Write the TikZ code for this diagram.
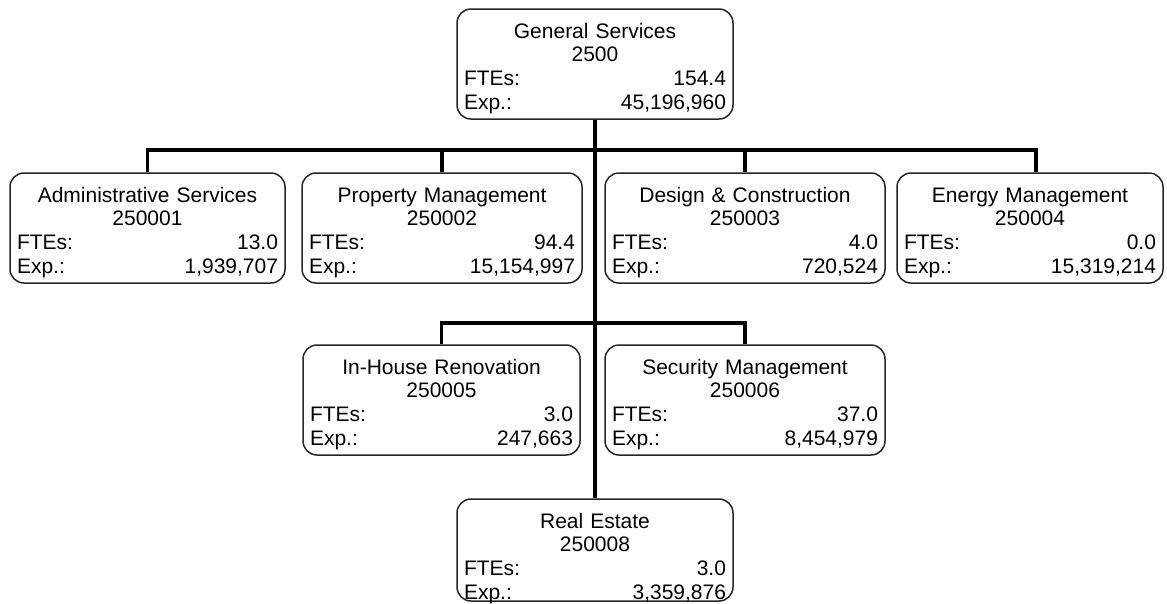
\documentclass[tikz,border=0pt]{standalone}
\usepackage{fontspec}
\setmainfont{Liberation Sans}
\usepackage{tikz}
\tikzstyle{unit} = [rectangle, draw=black!85, line width=1.5pt, rounded corners=14pt, minimum height=110pt, inner xsep=7pt, inner ysep=0pt, text height=24pt, text depth=76pt, align=center, font=\fontsize{21}{23.7}\selectfont]
\tikzstyle{wire} = [draw, line width=3.2pt]
\newcommand{\entry}[2]{\leavevmode\hbox to \hsize{#1\hfill #2}}

\begin{document}
\begin{tikzpicture}[x=1pt, y=-1pt]
\useasboundingbox (0,0) rectangle (1167,603);

%% top
\node[unit, text width=262pt] at (595, 64) (general) {General Services\\2500\\\entry{FTEs:}{154.4}\\\entry{Exp.:}{45,196,960}};

%% first row
\node[unit, text width=261pt] at (147.5, 228) (admin) {Administrative Services\\250001\\\entry{FTEs:}{13.0}\\\entry{Exp.:}{1,939,707}};
\node[unit, text width=266pt] at (442, 228) (property) {Property Management\\250002\\\entry{FTEs:}{94.4}\\\entry{Exp.:}{15,154,997}};
\node[unit, text width=266pt] at (745, 228) (design) {Design \& Construction\\250003\\\entry{FTEs:}{4.0}\\\entry{Exp.:}{720,524}};
\node[unit, text width=252pt] at (1030, 228) (energy) {Energy Management\\250004\\\entry{FTEs:}{0.0}\\\entry{Exp.:}{15,319,214}};

%% second row
\node[unit, text width=263pt] at (441.5, 400) (renovation) {In-House Renovation\\250005\\\entry{FTEs:}{3.0}\\\entry{Exp.:}{247,663}};
\node[unit, text width=266pt] at (745, 400) (security) {Security Management\\250006\\\entry{FTEs:}{37.0}\\\entry{Exp.:}{8,454,979}};

%% bottom
\node[unit, text width=262pt, minimum height=102pt, text height=26pt, text depth=70pt] at (595, 550) (realestate) {Real Estate\\250008\\\entry{FTEs:}{3.0}\\\entry{Exp.:}{3,359,876}};

% lines
\coordinate (busa) at (595, 150);
\coordinate (busb) at (595, 323);
\path[wire] (general.south) -- (realestate.north);
\path[wire] (admin.north) |- (busa) -| ([xshift=6]energy.north);
\path[wire] (property.north) -- (property.north |- busa);
\path[wire] (design.north) -- (design.north |- busa);
\path[wire] (renovation.north) |- (busb) -| (security.north);
\end{tikzpicture}
\end{document}
